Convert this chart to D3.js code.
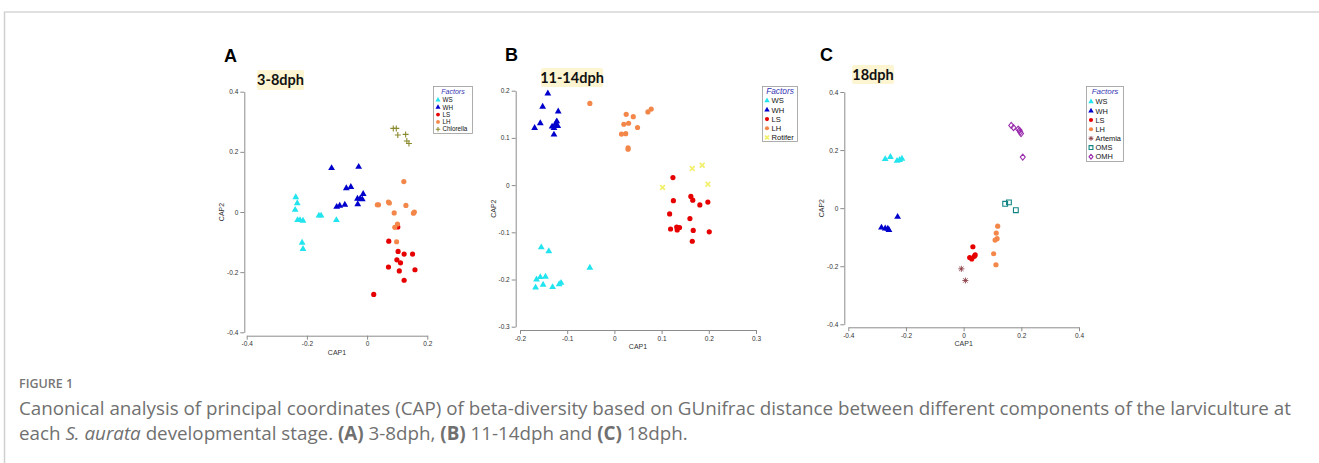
<!DOCTYPE html>
<html>
<head>
<meta charset="utf-8">
<script src="https://cdn.jsdelivr.net/npm/d3@7"></script>
<style>
  body { margin: 0; background: #fff; }
  svg { display: block; }
</style>
</head>
<body>
<div id="fig"></div>
<script>
'use strict';

/* Panel A : 3-8dph */
var factorsA = ['WS', 'WH', 'LS', 'LH', 'Chlorella'];
var xTicksA = [-0.4, -0.2, 0, 0.2];
var yTicksA = [-0.4, -0.2, 0, 0.2, 0.4];
var wsA = [[-0.237, 0.049], [-0.232, 0.029], [-0.239, 0.007], [-0.231, -0.027], [-0.223, -0.027], [-0.213, -0.029],
           [-0.160, -0.012], [-0.153, -0.012], [-0.102, -0.027], [-0.216, -0.102], [-0.213, -0.123]];
var whA = [[-0.118, 0.146], [-0.028, 0.150], [-0.069, 0.079], [-0.054, 0.083], [-0.101, 0.017], [-0.091, 0.021],
           [-0.074, 0.024], [-0.032, 0.044], [-0.023, 0.044], [-0.013, 0.060], [-0.016, 0.042], [-0.031, 0.026]];
var lsA = [[0.102, -0.050], [0.072, -0.097], [0.103, -0.131], [0.123, -0.140], [0.151, -0.140], [0.099, -0.159],
           [0.111, -0.169], [0.071, -0.183], [0.107, -0.196], [0.159, -0.192], [0.123, -0.227], [0.022, -0.274]];
var lhA = [[0.034, 0.024], [0.038, 0.024], [0.071, 0.033], [0.074, 0.030], [0.090, -0.003], [0.129, 0.022],
           [0.122, 0.101], [0.157, 0.000], [0.154, -0.004], [0.101, -0.040], [0.092, -0.051], [0.098, -0.099]];
var chlorellaA = [[0.087, 0.278], [0.097, 0.278], [0.102, 0.256], [0.128, 0.258], [0.132, 0.236], [0.139, 0.228]];

/* Panel B : 11-14dph */
var factorsB = ['WS', 'WH', 'LS', 'LH', 'Rotifer'];
var xTicksB = [-0.2, -0.1, 0, 0.1, 0.2, 0.3];
var yTicksB = [-0.3, -0.2, -0.1, 0, 0.1, 0.2];
var wsB = [[-0.155, -0.132], [-0.139, -0.140], [-0.052, -0.175], [-0.165, -0.200], [-0.157, -0.195], [-0.146, -0.194],
           [-0.151, -0.211], [-0.167, -0.217], [-0.131, -0.216], [-0.117, -0.210], [-0.113, -0.207]];
var whB = [[-0.141, 0.194], [-0.152, 0.166], [-0.119, 0.156], [-0.157, 0.131], [-0.169, 0.121], [-0.132, 0.124],
           [-0.128, 0.121], [-0.124, 0.131], [-0.122, 0.135], [-0.126, 0.126], [-0.120, 0.125], [-0.128, 0.107]];
var lsB = [[0.124, 0.016], [0.125, -0.033], [0.162, -0.024], [0.166, -0.032], [0.181, -0.042], [0.198, -0.036],
           [0.117, -0.061], [0.160, -0.071], [0.119, -0.093], [0.132, -0.089], [0.138, -0.090], [0.133, -0.095],
           [0.167, -0.096], [0.201, -0.099], [0.165, -0.119]];
var lhB = [[-0.052, 0.173], [0.025, 0.150], [0.040, 0.145], [0.030, 0.131], [0.020, 0.129], [0.071, 0.155],
           [0.078, 0.161], [0.049, 0.122], [0.015, 0.108], [0.024, 0.109], [0.029, 0.079], [0.029, 0.076]];
var rotiferB = [[0.102, -0.005], [0.165, 0.035], [0.186, 0.042], [0.198, 0.002]];

/* Panel C : 18dph */
var factorsC = ['WS', 'WH', 'LS', 'LH', 'Artemia', 'OMS', 'OMH'];
var xTicksC = [-0.4, -0.2, 0, 0.2, 0.4];
var yTicksC = [-0.4, -0.2, 0, 0.2, 0.4];
var wsC = [[-0.272, 0.169], [-0.254, 0.176], [-0.231, 0.163], [-0.222, 0.166], [-0.214, 0.170]];
var whC = [[-0.285, -0.067], [-0.272, -0.070], [-0.263, -0.071], [-0.259, -0.075], [-0.229, -0.030]];
var lsC = [[0.032, -0.133], [0.021, -0.170], [0.028, -0.175], [0.037, -0.166], [0.040, -0.161]];
var lhC = [[0.118, -0.062], [0.113, -0.086], [0.116, -0.105], [0.109, -0.110], [0.104, -0.157], [0.112, -0.195]];
var artemiaC = [[-0.008, -0.209], [0.006, -0.249]];
var omsC = [[0.144, 0.015], [0.157, 0.020], [0.181, -0.007]];
var omhC = [[0.165, 0.285], [0.173, 0.277], [0.189, 0.272], [0.194, 0.268], [0.196, 0.262], [0.199, 0.257], [0.205, 0.176]];

var factorStyle = {
  WS:        { shape: 'tri',     color: '#22e4ef' },
  WH:        { shape: 'tri',     color: '#0000cc' },
  LS:        { shape: 'circle',  color: '#e60000' },
  LH:        { shape: 'circle',  color: '#f3874a' },
  Chlorella: { shape: 'plus',    color: '#8c8a2e' },
  Rotifer:   { shape: 'x',       color: '#f3f06a' },
  Artemia:   { shape: 'star',    color: '#8a3c44' },
  OMS:       { shape: 'square',  color: '#138583' },
  OMH:       { shape: 'diamond', color: '#9b2fae' }
};

var w = 1319, h = 463;
var svg = d3.select('#fig').append('svg').attr('width', w).attr('height', h);

/* frame lines */
svg.append('line').attr('x1', 4).attr('y1', 12).attr('x2', w).attr('y2', 12)
  .style('stroke', '#d6d6d6').style('stroke-width', 1.5);
svg.append('line').attr('x1', 4.5).attr('y1', 12).attr('x2', 4.5).attr('y2', h)
  .style('stroke', '#d0d0d0').style('stroke-width', 1.5);

var fmt = function (d) { return d === 0 ? '0' : d.toFixed(1); };

function markerPath(shape, s) {
  if (shape === 'tri') return d3.symbol().type(d3.symbolTriangle).size(20 * s * s)();
  if (shape === 'circle') return d3.symbol().type(d3.symbolCircle).size(21 * s * s)();
  var a = 3 * s;
  if (shape === 'plus') return 'M' + (-a) + ',0H' + a + 'M0,' + (-a) + 'V' + a;
  if (shape === 'x') { a = 2.4 * s; return 'M' + (-a) + ',' + (-a) + 'L' + a + ',' + a + 'M' + (-a) + ',' + a + 'L' + a + ',' + (-a); }
  if (shape === 'square') { a = 2.4 * s; return 'M' + (-a) + ',' + (-a) + 'H' + a + 'V' + a + 'H' + (-a) + 'Z'; }
  if (shape === 'diamond') return 'M0,' + (-a) + 'L' + (2.5 * s) + ',0L0,' + a + 'L' + (-2.5 * s) + ',0Z';
  if (shape === 'star') {
    var b = a * 0.72;
    return 'M' + (-a) + ',0H' + a + 'M0,' + (-a) + 'V' + a +
      'M' + (-b) + ',' + (-b) + 'L' + b + ',' + b + 'M' + (-b) + ',' + b + 'L' + b + ',' + (-b);
  }
}

function styleMarker(sel, shape, color) {
  if (shape === 'tri' || shape === 'circle') {
    sel.style('fill', color).style('stroke', 'none');
  } else {
    sel.style('fill', 'none').style('stroke', color)
      .style('stroke-width', shape === 'x' ? 1.7 : (shape === 'star' ? 0.9 : 1.1));
  }
}

function drawPanel(p) {
  var g = svg.append('g');
  var x = d3.scaleLinear().domain(p.xDomain).range(p.xRange);
  var y = d3.scaleLinear().domain(p.yDomain).range(p.yRange);

  /* panel letter */
  g.append('text').text(p.letter)
    .attr('x', p.letterX).attr('y', p.letterY)
    .attr('font-family', 'Liberation Sans, Arial, sans-serif')
    .attr('font-weight', 'bold').attr('font-size', '18px').attr('fill', '#000');

  /* stage label */
  g.append('rect')
    .attr('x', p.stageBox[0]).attr('y', p.stageBox[1])
    .attr('width', p.stageBox[2]).attr('height', p.stageBox[3])
    .attr('rx', 2).style('fill', '#fdf5d2');
  g.append('text').text(p.stage)
    .attr('x', p.stageBox[0] + p.stageBox[2] / 2).attr('y', p.stageBox[1] + p.stageBox[3] / 2 + 5)
    .attr('text-anchor', 'middle')
    .attr('font-family', 'Lato, Open Sans, sans-serif')
    .attr('font-weight', 'bold').attr('font-size', '14.5px').attr('fill', '#111');

  /* axes */
  var yAxis = d3.axisLeft(y).tickValues(p.yTicks).tickFormat(fmt).tickSize(4).tickSizeOuter(0).tickPadding(2);
  var xAxis = d3.axisBottom(x).tickValues(p.xTicks).tickFormat(fmt).tickSize(4).tickSizeOuter(0).tickPadding(2);

  var ya = g.append('g').attr('transform', 'translate(' + p.yAxisX + ',0)').call(yAxis);
  var xa = g.append('g').attr('transform', 'translate(0,' + p.xAxisY + ')').call(xAxis);
  [ya, xa].forEach(function (a) {
    a.select('.domain').style('stroke', '#8c8c8c');
    a.selectAll('.tick line').style('stroke', '#8c8c8c');
    a.selectAll('.tick text')
      .attr('font-family', 'Liberation Sans, Arial, sans-serif')
      .attr('font-size', '6.5px').attr('fill', '#333');
  });

  /* axis titles */
  g.append('text').text('CAP1')
    .attr('x', (p.xRange[0] + p.xRange[1]) / 2).attr('y', p.xAxisY + 19)
    .attr('text-anchor', 'middle')
    .attr('font-family', 'Liberation Sans, Arial, sans-serif')
    .attr('font-size', '7px').attr('fill', '#333');
  g.append('text').text('CAP2')
    .attr('transform', 'translate(' + (p.yAxisX - 20) + ',' + ((p.yRange[0] + p.yRange[1]) / 2) + ') rotate(-90)')
    .attr('text-anchor', 'middle')
    .attr('font-family', 'Liberation Sans, Arial, sans-serif')
    .attr('font-size', '7px').attr('fill', '#333');

  /* points */
  p.factors.forEach(function (name, i) {
    var st = factorStyle[name];
    var pts = g.append('g').selectAll('path')
      .data(p.series[i])
      .enter()
      .append('path')
      .attr('d', markerPath(st.shape, 1))
      .attr('transform', function (d) { return 'translate(' + x(d[0]) + ',' + y(d[1]) + ')'; });
    styleMarker(pts, st.shape, st.color);
  });

  /* legend */
  var L = p.legend;
  g.append('rect')
    .attr('x', L.x).attr('y', L.y).attr('width', L.w).attr('height', L.h)
    .style('fill', '#fff').style('stroke', '#9a9a9a').style('stroke-width', 0.8);
  g.append('text').text('Factors')
    .attr('x', L.x + L.w / 2).attr('y', L.y + L.titleY)
    .attr('text-anchor', 'middle')
    .attr('font-family', 'Liberation Sans, Arial, sans-serif')
    .attr('font-style', 'italic').attr('font-size', L.titleSize + 'px').attr('fill', '#3434b4');
  p.factors.forEach(function (name, i) {
    var st = factorStyle[name];
    var cy = L.first + i * L.step;
    var m = g.append('path')
      .attr('d', markerPath(st.shape, L.mk))
      .attr('transform', 'translate(' + (L.x + 4.5) + ',' + cy + ')');
    styleMarker(m, st.shape, st.color);
    g.append('text').text(name)
      .attr('x', L.x + 9).attr('y', cy + L.size * 0.36)
      .attr('font-family', 'Liberation Sans, Arial, sans-serif')
      .attr('font-size', L.size + 'px').attr('fill', '#111');
  });
}

drawPanel({
  letter: 'A', letterX: 224, letterY: 62,
  stage: '3-8dph', stageBox: [257, 70, 47, 20],
  xDomain: [-0.4, 0.2], xRange: [246.7, 427.3],
  yDomain: [-0.4, 0.4], yRange: [332.3, 91.7],
  yAxisX: 244.3, xAxisY: 335.7, xTicks: xTicksA, yTicks: yTicksA,
  factors: factorsA, series: [wsA, whA, lsA, lhA, chlorellaA],
  legend: { x: 433.5, y: 86.5, w: 39, h: 47, titleY: 7, titleSize: 7, size: 6.3, first: 100, step: 7.3, mk: 0.75 }
});

drawPanel({
  letter: 'B', letterX: 505, letterY: 61,
  stage: '11-14dph', stageBox: [541, 68, 62, 19],
  xDomain: [-0.2, 0.3], xRange: [520, 756],
  yDomain: [-0.3, 0.2], yRange: [326.7, 90.7],
  yAxisX: 515.7, xAxisY: 330, xTicks: xTicksB, yTicks: yTicksB,
  factors: factorsB, series: [wsB, whB, lsB, lhB, rotiferB],
  legend: { x: 762.5, y: 86.5, w: 35, h: 55, titleY: 7.5, titleSize: 8.3, size: 7.6, first: 100.7, step: 9.2, mk: 0.8 }
});

drawPanel({
  letter: 'C', letterX: 820, letterY: 61,
  stage: '18dph', stageBox: [852, 65, 42, 19],
  xDomain: [-0.4, 0.4], xRange: [848.3, 1079],
  yDomain: [-0.4, 0.4], yRange: [324.3, 92],
  yAxisX: 844.3, xAxisY: 327.3, xTicks: xTicksC, yTicks: yTicksC,
  factors: factorsC, series: [wsC, whC, lsC, lhC, artemiaC, omsC, omhC],
  legend: { x: 1086.5, y: 86.5, w: 37, h: 75, titleY: 7.5, titleSize: 8, size: 7.4, first: 101.7, step: 9.17, mk: 0.8 }
});

/* Caption */

var capFont = 'Open Sans, Lato, sans-serif';
svg.append('text').text('FIGURE 1')
  .attr('x', 19).attr('y', 388)
  .attr('font-family', capFont).attr('font-weight', 600)
  .attr('font-size', '12.5px').attr('fill', '#767676');

var line1 = svg.append('text')
  .attr('x', 19).attr('y', 415)
  .attr('font-family', capFont).attr('font-size', '16px').attr('fill', '#707070')
  .text('Canonical analysis of principal coordinates (CAP) of beta-diversity based on GUnifrac distance between different components of the larviculture at');

var line2 = svg.append('text')
  .attr('x', 19).attr('y', 440)
  .attr('font-family', capFont).attr('font-size', '16px').attr('fill', '#707070');
[['each ', ''], ['S. aurata', 'i'], [' developmental stage. ', ''], ['(A)', 'b'], [' 3-8dph, ', ''],
 ['(B)', 'b'], [' 11-14dph and ', ''], ['(C)', 'b'], [' 18dph.', '']].forEach(function (part) {
  var t = line2.append('tspan').text(part[0]);
  if (part[1] === 'i') t.attr('font-style', 'italic');
  if (part[1] === 'b') t.attr('font-weight', 'bold');
});

/* fit caption to the reference line width */
var natural = line1.node().getComputedTextLength();
var fs = 16 * (1292 - 19) / natural;
line1.attr('font-size', fs + 'px');
line2.attr('font-size', fs + 'px');
</script>
</body>
</html>
